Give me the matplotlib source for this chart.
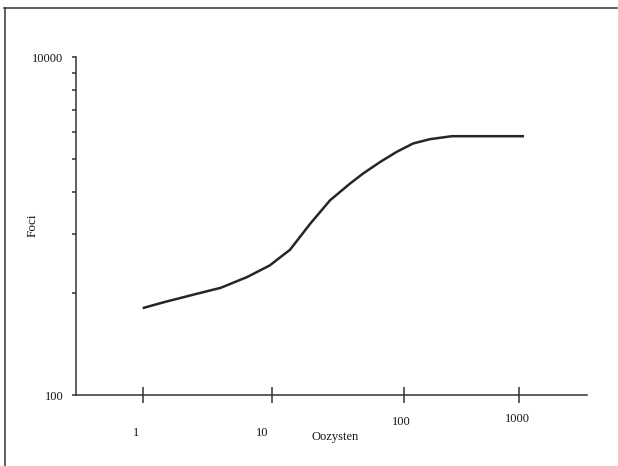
import numpy as np
import matplotlib
matplotlib.use('agg')
import matplotlib.pyplot as plt
from matplotlib.lines import Line2D
from matplotlib.ticker import FixedLocator, NullLocator, NullFormatter

# values
oozysten = [1, 1.45, 2.6, 4.0, 6.4, 9.6, 13.7, 19.4, 27.5, 39, 49, 66, 88, 120, 168, 260, 1100]
foci = [327, 354, 397, 431, 499, 585, 725, 1030, 1422, 1787, 2050, 2400, 2754, 3088, 3275, 3410, 3410]

x_ticks = [1, 10, 100, 1000]
x_ticklabels = ['1', '10', '100', '1000']
y_ticks = [100, 10000]
y_ticklabels = ['100', '10000']
y_minor = [400, 900, 1600, 2500, 3600, 4900, 6400, 8100]

W, H = 618, 466
ink = '#262626'
txt = '#151515'
serif = 'Liberation Serif'

# the printed x decades are not evenly spaced, so map log10(x) piecewise
_decs = np.array([-10, 0, 1, 2, 3, 10], dtype=float)
_pos = np.array([142.7 - 10 * 129.3, 142.7, 272.0, 404.0, 519.3, 519.3 + 7 * 115.3])


def fwd(x):
    x = np.asarray(x, dtype=float)
    with np.errstate(divide='ignore', invalid='ignore'):
        lx = np.log10(np.clip(x, 1e-300, None))
    return np.interp(lx, _decs, _pos)


def inv(p):
    return 10 ** np.interp(np.asarray(p, dtype=float), _pos, _decs)


fig = plt.figure(figsize=(W / 100, H / 100), dpi=100)
ax = fig.add_axes([76 / W, 1 - 395 / H, (587 - 76) / W, (395 - 57.3) / H])

ax.set_xscale('function', functions=(fwd, inv))
ax.set_yscale('log')
ax.set_xlim(inv(76), inv(587))
ax.set_ylim(100, 10000)

ax.plot(oozysten, foci, color=ink, lw=1.8, solid_capstyle='butt', solid_joinstyle='round')

for s in ['top', 'right']:
    ax.spines[s].set_visible(False)
for s in ['left', 'bottom']:
    ax.spines[s].set_color('#333333')
    ax.spines[s].set_linewidth(1.1)

# x ticks cross the axis, labels placed by hand (scan is uneven)
ax.xaxis.set_major_locator(FixedLocator(x_ticks))
ax.xaxis.set_minor_locator(NullLocator())
ax.xaxis.set_major_formatter(NullFormatter())
ax.tick_params(axis='x', which='major', direction='inout', length=11, width=1.1,
               color='#333333')
x_offsets = [(-7, -37.5), (-10, -37.5), (-3, -27), (-1.5, -23.5)]
for val, lab, (dx, dy) in zip(x_ticks, x_ticklabels, x_offsets):
    ax.annotate(lab, xy=(val, 0), xycoords=('data', 'axes fraction'),
                xytext=(dx, dy), textcoords='offset pixels',
                ha='center', va='center', fontsize=9, family=serif, color=txt)

ax.yaxis.set_major_locator(FixedLocator(y_ticks))
ax.set_yticklabels(y_ticklabels, fontsize=9, family=serif, color=txt)
ax.yaxis.set_minor_locator(FixedLocator(y_minor))
ax.yaxis.set_minor_formatter(NullFormatter())
ax.tick_params(axis='y', which='both', direction='out', length=3, width=1.1,
               color='#333333', pad=6)

fig.text(335 / W, 1 - 437 / H, 'Oozysten', ha='center', va='center',
         fontsize=9, family=serif, color=txt)
fig.text(33 / W, 1 - 225 / H, 'Foci', ha='center', va='center', rotation=90,
         fontsize=9.5, family=serif, color=txt)

# scan frame: top and left edges only
fig.add_artist(Line2D([4 / W, 617 / W], [1 - 8.3 / H, 1 - 8.3 / H],
                      transform=fig.transFigure, color='#333333', lw=1.1))
fig.add_artist(Line2D([4.5 / W, 4.5 / W], [1 - 8.3 / H, 0],
                      transform=fig.transFigure, color='#333333', lw=1.1))

fig.savefig('out.png', dpi=100)
